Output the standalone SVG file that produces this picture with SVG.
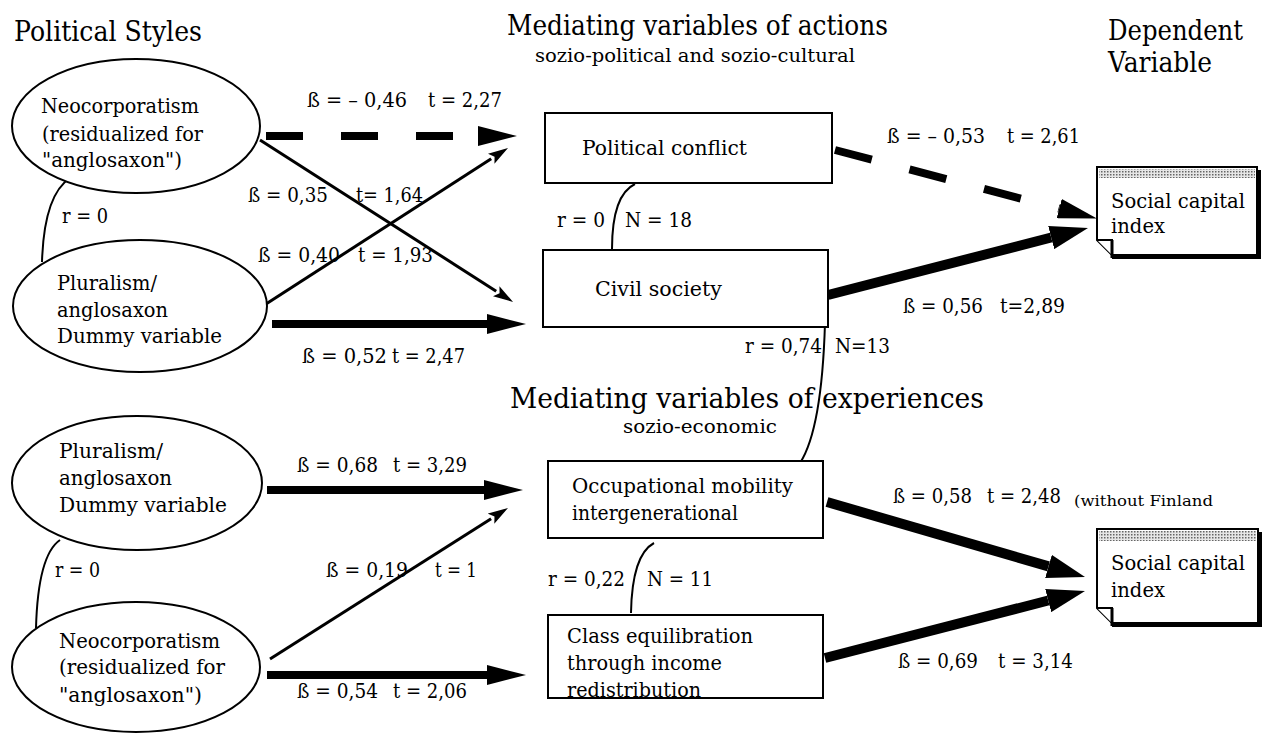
<svg xmlns="http://www.w3.org/2000/svg" width="1264" height="734" viewBox="0 0 1264 734">
<style>
text{font-family:"DejaVu Serif","Liberation Serif",serif;fill:#000}
.t{font-size:28px}
.s{font-size:19px}
.n{font-size:21px}
.l{font-size:21px}
.f{font-size:15px}
.ell{fill:#fff;stroke:#000;stroke-width:2}
.box{fill:#fff;stroke:#000;stroke-width:2}
.thin{stroke:#000;stroke-width:3;fill:none}
.thk{stroke:#000;stroke-width:8;fill:none}
.big{stroke:#000;stroke-width:10;fill:none}
.dash{stroke:#000;stroke-width:8;fill:none;stroke-dasharray:37 38}
.corr{stroke:#000;stroke-width:2;fill:none}
</style>
<defs>
<marker id="hThin" viewBox="0 -6 20 12" refX="0" refY="0" markerWidth="20" markerHeight="12" markerUnits="userSpaceOnUse" orient="auto"><path d="M0,-6 L20,0 L0,6 L4,0 Z" fill="#000"/></marker>
<marker id="hThick" viewBox="0 -10 39 20" refX="0" refY="0" markerWidth="39" markerHeight="20" markerUnits="userSpaceOnUse" orient="auto"><path d="M0,-10 L39,0 L0,10 Z" fill="#000"/></marker>
<marker id="hBig" viewBox="0 -12 38 24" refX="0" refY="0" markerWidth="38" markerHeight="24" markerUnits="userSpaceOnUse" orient="auto"><path d="M0,-12 L38,0 L0,12 Z" fill="#000"/></marker>
<pattern id="dots" width="3" height="3" patternUnits="userSpaceOnUse"><rect width="3" height="3" fill="#e6e6e6"/><rect width="1.5" height="1.5" fill="#666"/></pattern>
</defs>
<rect width="1264" height="734" fill="#fff"/>

<g id="titles">
<text class="t" x="14" y="41" textLength="188" lengthAdjust="spacingAndGlyphs">Political Styles</text>
<text class="t" x="507" y="35" textLength="381" lengthAdjust="spacingAndGlyphs">Mediating variables of actions</text>
<text class="s" x="535" y="62" textLength="320" lengthAdjust="spacingAndGlyphs">sozio-political and sozio-cultural</text>
<text class="t" x="1108" y="40" textLength="135" lengthAdjust="spacingAndGlyphs">Dependent</text>
<text class="t" x="1108" y="72" textLength="104" lengthAdjust="spacingAndGlyphs">Variable</text>
<text class="t" x="510" y="408" textLength="474" lengthAdjust="spacingAndGlyphs">Mediating variables of experiences</text>
<text class="s" x="623" y="433" textLength="154" lengthAdjust="spacingAndGlyphs">sozio-economic</text>
</g>

<g id="connectors">
<path class="corr" d="M70,178 Q44,195 42,262"/>
<path class="corr" d="M60,540 Q38,555 36,628"/>
<path class="corr" d="M635,184 Q612,195 612,249"/>
<path class="corr" d="M825,323 C823,390 815,440 800,463"/>
<path class="corr" d="M654,543 Q632,555 631,613"/>
<path class="dash" d="M266,136 L478,136" marker-end="url(#hThick)"/>
<path class="thin" d="M260,140 L496.2,291.2" marker-end="url(#hThin)"/>
<path class="thin" d="M266,304 L491.2,158.8" marker-end="url(#hThin)"/>
<path class="thk" d="M272,324 L487,324" marker-end="url(#hThick)"/>
<path class="thk" d="M267,490 L484,490" marker-end="url(#hThick)"/>
<path class="thin" d="M270,659 L491.1,518.7" marker-end="url(#hThin)"/>
<path class="thk" d="M267,675 L487,675" marker-end="url(#hThick)"/>
<path class="dash" style="stroke-dasharray:38 39" d="M835,150 L1059.2,208.6" marker-end="url(#hThick)"/>
<path class="big" d="M828,295 L1051.2,237.5" marker-end="url(#hBig)"/>
<path class="big" d="M827,502 L1048.5,566.4" marker-end="url(#hBig)"/>
<path class="big" d="M825,658 L1048.2,600.5" marker-end="url(#hBig)"/>
</g>

<g id="neo1">
<ellipse class="ell" cx="136" cy="126" rx="124" ry="67"/>
<text class="n" x="41" y="113" textLength="158" lengthAdjust="spacingAndGlyphs">Neocorporatism</text>
<text class="n" x="42" y="141" textLength="161" lengthAdjust="spacingAndGlyphs">(residualized for</text>
<text class="n" x="42" y="167" textLength="140" lengthAdjust="spacingAndGlyphs">"anglosaxon")</text>
</g>
<g id="plu1">
<ellipse class="ell" cx="140" cy="306" rx="127" ry="66"/>
<text class="n" x="57" y="290" textLength="100" lengthAdjust="spacingAndGlyphs">Pluralism/</text>
<text class="n" x="57" y="317" textLength="111" lengthAdjust="spacingAndGlyphs">anglosaxon</text>
<text class="n" x="57" y="343" textLength="165" lengthAdjust="spacingAndGlyphs">Dummy variable</text>
</g>
<g id="plu2">
<ellipse class="ell" cx="137" cy="483" rx="125" ry="67"/>
<text class="n" x="59" y="458" textLength="104" lengthAdjust="spacingAndGlyphs">Pluralism/</text>
<text class="n" x="59" y="485" textLength="113" lengthAdjust="spacingAndGlyphs">anglosaxon</text>
<text class="n" x="59" y="512" textLength="168" lengthAdjust="spacingAndGlyphs">Dummy variable</text>
</g>
<g id="neo2">
<ellipse class="ell" cx="136" cy="667" rx="124" ry="65"/>
<text class="n" x="59" y="648" textLength="161" lengthAdjust="spacingAndGlyphs">Neocorporatism</text>
<text class="n" x="59" y="674" textLength="166" lengthAdjust="spacingAndGlyphs">(residualized for</text>
<text class="n" x="59" y="702" textLength="143" lengthAdjust="spacingAndGlyphs">"anglosaxon")</text>
</g>

<g id="polconf">
<rect class="box" x="545" y="113" width="287" height="70"/>
<text class="n" x="582" y="155" textLength="165" lengthAdjust="spacingAndGlyphs">Political conflict</text>
</g>
<g id="civil">
<rect class="box" x="543" y="250" width="285" height="77"/>
<text class="n" x="595" y="296" textLength="127" lengthAdjust="spacingAndGlyphs">Civil society</text>
</g>
<g id="occup">
<rect class="box" x="548" y="461" width="275" height="77"/>
<text class="n" x="572" y="493" textLength="221" lengthAdjust="spacingAndGlyphs">Occupational mobility</text>
<text class="n" x="572" y="520" textLength="166" lengthAdjust="spacingAndGlyphs">intergenerational</text>
</g>
<g id="classeq">
<rect class="box" x="548" y="615" width="275" height="83"/>
<text class="n" x="567" y="643" textLength="186" lengthAdjust="spacingAndGlyphs">Class equilibration</text>
<text class="n" x="567" y="670" textLength="155" lengthAdjust="spacingAndGlyphs">through income</text>
<text class="n" x="567" y="697" textLength="134" lengthAdjust="spacingAndGlyphs">redistribution</text>
</g>

<g id="sci1">
<path d="M1112,255 L1112,259 L1261,259 L1261,170 L1257,170 L1257,255 Z" fill="#000"/>
<path class="box" d="M1097,167 L1257,167 L1257,255 L1112,255 L1097,240 Z"/>
<rect x="1099" y="169" width="156" height="9" fill="url(#dots)"/>
<path d="M1097,240 L1112,240 L1112,255" fill="#fff" stroke="#000" stroke-width="2"/>
<path d="M1112,240 L1112,258" stroke="#000" stroke-width="3"/>
<text class="n" x="1111" y="208" textLength="134" lengthAdjust="spacingAndGlyphs">Social capital</text>
<text class="n" x="1111" y="233" textLength="54" lengthAdjust="spacingAndGlyphs">index</text>
</g>
<g id="sci2">
<path d="M1112,623 L1112,627 L1262,627 L1262,532 L1258,532 L1258,623 Z" fill="#000"/>
<path class="box" d="M1097,529 L1258,529 L1258,623 L1112,623 L1097,608 Z"/>
<rect x="1099" y="531" width="157" height="10" fill="url(#dots)"/>
<path d="M1097,608 L1112,608 L1112,623" fill="#fff" stroke="#000" stroke-width="2"/>
<path d="M1112,608 L1112,626" stroke="#000" stroke-width="3"/>
<text class="n" x="1111" y="570" textLength="134" lengthAdjust="spacingAndGlyphs">Social capital</text>
<text class="n" x="1111" y="597" textLength="54" lengthAdjust="spacingAndGlyphs">index</text>
</g>

<g id="labels">
<text class="l" x="62" y="223" textLength="46" lengthAdjust="spacingAndGlyphs">r = 0</text>
<text class="l" x="55" y="577" textLength="45" lengthAdjust="spacingAndGlyphs">r = 0</text>
<text class="l" x="557" y="227" textLength="48" lengthAdjust="spacingAndGlyphs">r = 0</text>
<text class="l" x="625" y="227" textLength="67" lengthAdjust="spacingAndGlyphs">N = 18</text>
<text class="l" x="745" y="353" textLength="77" lengthAdjust="spacingAndGlyphs">r = 0,74</text>
<text class="l" x="835" y="353" textLength="55" lengthAdjust="spacingAndGlyphs">N=13</text>
<text class="l" x="548" y="586" textLength="77" lengthAdjust="spacingAndGlyphs">r = 0,22</text>
<text class="l" x="647" y="586" textLength="66" lengthAdjust="spacingAndGlyphs">N = 11</text>
<text class="l" x="307" y="107" textLength="100" lengthAdjust="spacingAndGlyphs">ß = – 0,46</text>
<text class="l" x="428" y="107" textLength="74" lengthAdjust="spacingAndGlyphs">t = 2,27</text>
<text class="l" x="248" y="202" textLength="80" lengthAdjust="spacingAndGlyphs">ß = 0,35</text>
<text class="l" x="356" y="202" textLength="67" lengthAdjust="spacingAndGlyphs">t= 1,64</text>
<text class="l" x="258" y="262" textLength="82" lengthAdjust="spacingAndGlyphs">ß = 0,40</text>
<text class="l" x="358" y="262" textLength="75" lengthAdjust="spacingAndGlyphs">t = 1,93</text>
<text class="l" x="302" y="363" textLength="85" lengthAdjust="spacingAndGlyphs">ß = 0,52</text>
<text class="l" x="392" y="363" textLength="73" lengthAdjust="spacingAndGlyphs">t = 2,47</text>
<text class="l" x="297" y="472" textLength="81" lengthAdjust="spacingAndGlyphs">ß = 0,68</text>
<text class="l" x="393" y="472" textLength="74" lengthAdjust="spacingAndGlyphs">t = 3,29</text>
<text class="l" x="326" y="577" textLength="82" lengthAdjust="spacingAndGlyphs">ß = 0,19</text>
<text class="l" x="435" y="577" textLength="42" lengthAdjust="spacingAndGlyphs">t = 1</text>
<text class="l" x="297" y="698" textLength="81" lengthAdjust="spacingAndGlyphs">ß = 0,54</text>
<text class="l" x="393" y="698" textLength="74" lengthAdjust="spacingAndGlyphs">t = 2,06</text>
<text class="l" x="887" y="143" textLength="98" lengthAdjust="spacingAndGlyphs">ß = – 0,53</text>
<text class="l" x="1007" y="143" textLength="73" lengthAdjust="spacingAndGlyphs">t = 2,61</text>
<text class="l" x="903" y="313" textLength="80" lengthAdjust="spacingAndGlyphs">ß = 0,56</text>
<text class="l" x="1000" y="313" textLength="65" lengthAdjust="spacingAndGlyphs">t=2,89</text>
<text class="l" x="893" y="503" textLength="79" lengthAdjust="spacingAndGlyphs">ß = 0,58</text>
<text class="l" x="987" y="503" textLength="74" lengthAdjust="spacingAndGlyphs">t = 2,48</text>
<text class="f" x="1074" y="506" textLength="139" lengthAdjust="spacingAndGlyphs">(without Finland</text>
<text class="l" x="898" y="668" textLength="80" lengthAdjust="spacingAndGlyphs">ß = 0,69</text>
<text class="l" x="998" y="668" textLength="75" lengthAdjust="spacingAndGlyphs">t = 3,14</text>
</g>
</svg>
